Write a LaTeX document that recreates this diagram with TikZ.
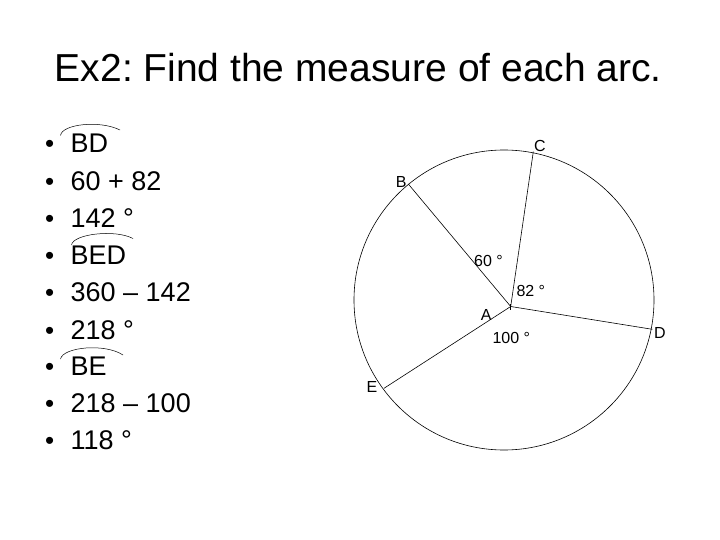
\documentclass[tikz,border=0pt]{standalone}
\usepackage{fontspec}
\setmainfont{Liberation Sans}
\frenchspacing
\begin{document}
\begin{tikzpicture}[x={(1pt,0)},y={(0,-1pt)},
  titletext/.style={inner sep=0pt,anchor=base,font=\fontsize{39}{44}\selectfont},
  itemtext/.style={inner sep=0pt,anchor=base west,font=\fontsize{27}{31}\selectfont},
  bullettext/.style={inner sep=0pt,anchor=base,font=\fontsize{26}{30}\selectfont},
  ptlabel/.style={inner sep=0pt,anchor=base west,font=\fontsize{16}{18}\selectfont},
  radius line/.style={line width=0.6pt},
  arcmark/.style={line width=0.5pt}]
\useasboundingbox (0,0) rectangle (720,540);
% title
\node[titletext] (title) at (358.4,81.7) {Ex2: Find the measure of each arc.};
% bullets and items
\foreach \y [count=\i] in {153,190.5,228,264.5,301.5,339,375.5,412,449}{
  \node[bullettext] (b\i) at (49.7,\y) {•};
}
\node[itemtext] (i1) at (70.5,153) {BD};
\node[itemtext] (i2) at (70.5,190.5) {60 + 82};
\node[itemtext] (i3) at (70.5,228) {142 °};
\node[itemtext] (i4) at (70.5,264.5) {BED};
\node[itemtext] (i5) at (70.5,301.5) {360 – 142};
\node[itemtext] (i6) at (70.5,339) {218 °};
\node[itemtext] (i7) at (70.5,375.5) {BE};
\node[itemtext] (i8) at (70.5,412) {218 – 100};
\node[itemtext] (i9) at (70.5,449) {118 °};
% arc marks over names
\draw[arcmark] (60.5,135.5) .. controls (62,124) and (100,120) .. (120,130);
\draw[arcmark] (71.5,245) .. controls (73,234) and (115,229) .. (133,238.5);
\draw[arcmark] (60.5,359) .. controls (63,347) and (105,343) .. (123,355);
% circle
\coordinate (O) at (504,300);
\draw[line width=0.6pt] (O) circle[radius=150];
% points
\coordinate (A) at (510.7,306.5);
\coordinate (B) at (408.3,184);
\coordinate (C) at (533.3,151.7);
\coordinate (D) at (652.3,329.3);
\coordinate (E) at (384,388.3);
\draw[radius line] (A) -- (B);
\draw[radius line] (A) -- (C);
\draw[radius line] (A) -- (D);
\draw[radius line] (A) -- (E);
\draw[line width=0.5pt] ([yshift=-3pt]A) -- ([yshift=3pt]A);
% labels
\node[ptlabel] (lA) at (480.7,320.7) {A};
\node[ptlabel] (lB) at (395.7,187.3) {B};
\node[ptlabel] (lC) at (534,151.7) {C};
\node[ptlabel] (lD) at (654,338.3) {D};
\node[ptlabel] (lE) at (366.3,392.3) {E};
\node[ptlabel] (a60) at (474,266.7) {60 °};
\node[ptlabel] (a82) at (516.3,296.7) {82 °};
\node[ptlabel] (a100) at (492.3,343.3) {100 °};
\end{tikzpicture}
\end{document}
